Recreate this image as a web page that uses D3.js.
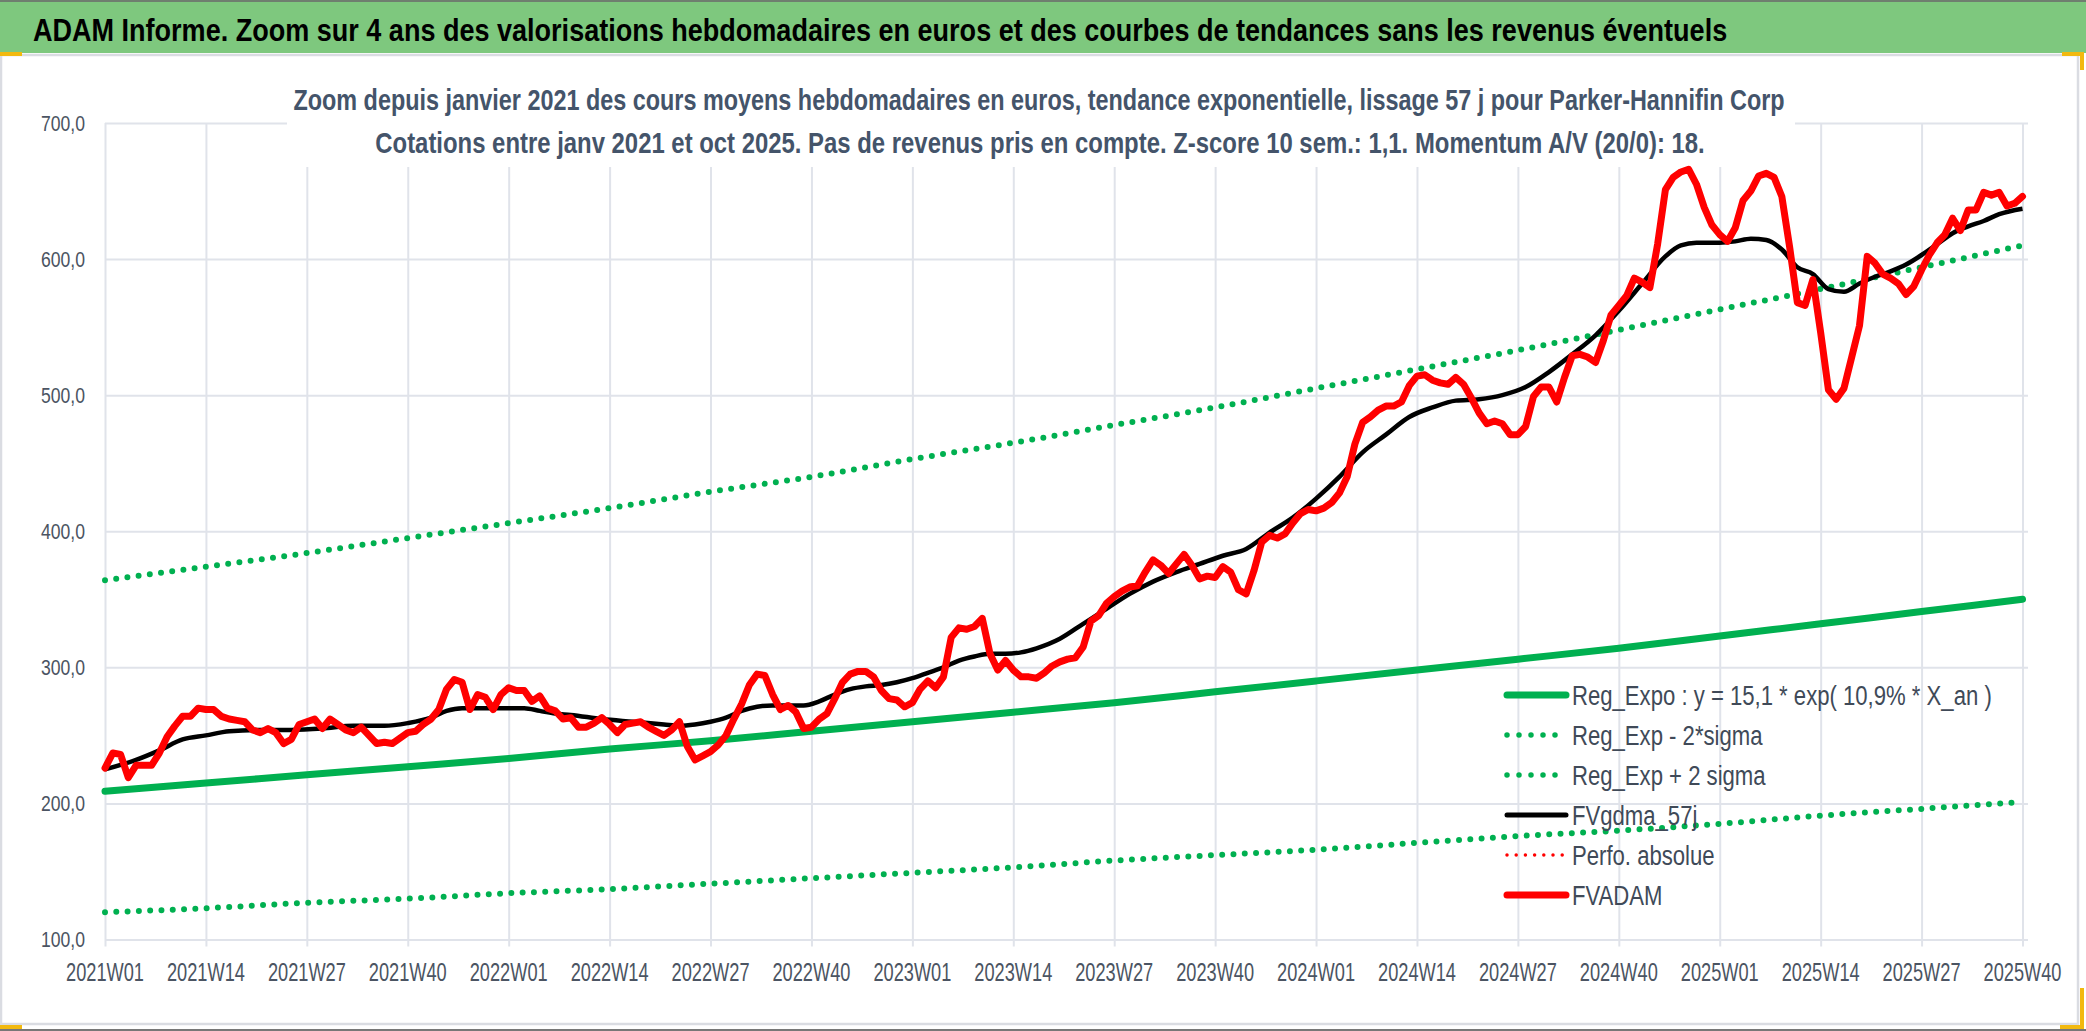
<!DOCTYPE html>
<html lang="fr">
<head>
    <meta charset="UTF-8">
    <title>ADAM Informe - Parker-Hannifin Corp</title>
    <script src="https://d3js.org/d3.v7.min.js"></script>
    <style>
        html, body { margin: 0; padding: 0; background: #fff; overflow: hidden; }
        svg { display: block; }
        text { font-family: "Liberation Sans", Arial, "DejaVu Sans", sans-serif; }
        .grid line { stroke: #e0e3ea; stroke-width: 2px; }
        .grid path { display: none; }
        .tick-label { fill: #4b5462; }
        .legend text { fill: #404a58; font-size: 28px; }
    </style>
</head>
<body>
<script>
    // ---- categories (ISO weeks) ----
    const years = [2021, 2022, 2023, 2024, 2025];
    const weeksInYear = [52, 52, 52, 52, 40];
    const weeks = [];
    years.forEach((y, k) => {
        for (let w = 1; w <= weeksInYear[k]; w++) weeks.push(y + "W" + String(w).padStart(2, "0"));
    });

    const tickLabels = [
        "2021W01", "2021W14", "2021W27", "2021W40",
        "2022W01", "2022W14", "2022W27", "2022W40",
        "2023W01", "2023W14", "2023W27", "2023W40",
        "2024W01", "2024W14", "2024W27", "2024W40",
        "2025W01", "2025W14", "2025W27", "2025W40"
    ];
    const yTicks = [100, 200, 300, 400, 500, 600, 700];

    // ---- FVADAM : weekly average prices in euros ----
    const fvadam = [
        226, 237, 236, 219, 228, 228, 228, 237, 249, 257, 264, 264, 270,
        269, 269, 264, 262, 261, 260, 254, 252, 255, 252, 244, 247, 258,
        260, 262, 255, 262, 258, 254, 252, 256, 250, 244, 245, 244, 248,
        252, 253, 258, 262, 269, 284, 291, 289, 269, 280, 278, 269, 280,
        285, 283, 283, 275, 279, 270, 268, 262, 263, 256, 256, 259, 263,
        258, 252, 258, 259, 260, 256, 253, 250, 254, 260, 242, 232, 235,
        238, 243, 250, 262, 273, 287, 295, 294, 280, 269, 272, 267, 255,
        256, 262, 266, 277, 289, 295, 297, 297, 293, 283, 277, 276, 271,
        274, 284, 290, 285, 293, 322, 329, 328, 330, 336, 310, 298, 305,
        298, 293, 293, 292, 296, 301, 304, 306, 307, 315, 334, 338, 347,
        352, 356, 359, 360, 370, 379, 375, 369, 376, 383, 375, 365, 367,
        366, 374, 370, 357, 354, 371, 392, 397, 395, 398, 406, 413, 416,
        415, 417, 421, 428, 440, 464, 480, 484, 489, 492, 492, 495, 507,
        514, 515, 511, 509, 508, 513, 508, 498, 487, 479, 481, 479, 471,
        471, 477, 499, 506, 506, 495, 513, 529, 530, 528, 524, 540, 559,
        566, 573, 586, 583, 579, 611, 651, 660, 664, 666, 655, 638, 625,
        618, 613, 623, 643, 650, 661, 663, 660, 646, 609, 568, 566, 585,
        546, 504, 497, 505, 528, 551, 602, 597, 589, 586, 582, 574, 580,
        592, 603, 612, 618, 630, 621, 636, 636, 649, 647, 649, 639, 641,
        646
    ];

    // ---- FVgdma_57j : smoothed curve, read at selected weeks ----
    const gdmaWeekIdx = [
        0, 4, 7, 10, 13, 16, 20, 24, 28, 32, 36, 39, 42, 44, 46, 50, 54, 56, 58,
        60, 64, 68, 72, 74, 76, 78, 80, 82, 84, 86, 88, 90, 92, 94, 96, 98, 100,
        102, 104, 106, 108, 110, 112, 114, 116, 118, 120, 123, 126, 129, 132, 135,
        138, 141, 144, 147, 150, 153, 156, 159, 162, 165, 168, 171, 174, 177, 180,
        183, 186, 189, 192, 195, 198, 201, 203, 205, 208, 210, 212, 214, 216, 218,
        220, 222, 224, 226, 228, 230, 232, 234, 236, 238, 240, 242, 244, 247
    ];
    const gdmaValues = [
        225, 232, 239, 247, 250, 253, 254, 254, 255, 257, 257, 259, 263, 268, 270, 270, 270, 268, 266,
        265, 262, 260, 258, 257, 258, 260, 263, 268, 271, 272, 272, 272, 275, 280, 284, 286, 287,
        289, 292, 296, 300, 305, 308, 310, 310, 311, 314, 321, 332, 343, 354, 363,
        370, 376, 382, 387, 399, 410, 424, 440, 458, 471, 484, 491, 496, 497, 500,
        506, 517, 530, 544, 562, 582, 602, 610, 612, 612, 613, 615, 614, 607, 594,
        589, 578, 576, 582, 587, 591, 596, 603, 611, 619, 624, 628, 633, 637
    ];

    // ---- exponential regression and +/- 2 sigma bands, read at each tick ----
    const regExpo  = [209, 215, 221, 227, 233, 240, 246, 253, 260, 267, 274, 282, 290, 298, 306, 314, 323, 332, 341, 350];
    const regMinus = [120, 123, 127, 130, 134, 137, 141, 145, 149, 153, 158, 162, 166, 171, 176, 180, 185, 191, 196, 201];
    const regPlus  = [364, 374, 384, 395, 406, 417, 429, 440, 453, 465, 478, 491, 505, 519, 533, 548, 563, 578, 594, 610];

    const legendLabels = [
        "Reg_Expo : y = 15,1 * exp( 10,9% *  X_an )",
        "Reg_Exp - 2*sigma",
        "Reg_Exp + 2 sigma",
        "FVgdma_57j",
        "Perfo. absolue",
        "FVADAM"
    ];

    const titleText = "ADAM Informe. Zoom sur 4 ans des valorisations hebdomadaires en euros et des courbes de tendances sans les revenus éventuels";
    const subTitle1 = "Zoom depuis janvier 2021 des cours moyens hebdomadaires en euros, tendance exponentielle, lissage 57 j pour Parker-Hannifin Corp";
    const subTitle2 = "Cotations entre janv 2021 et oct 2025. Pas de revenus pris en compte. Z-score 10 sem.: 1,1. Momentum A/V (20/0): 18.";

    // ---- layout ----
    const W = 2086, H = 1031;
    const green = "#00b050";
    const plot = { left: 105, right: 2022.5, top: 123, bottom: 939.5, gridRight: 2028 };

    const svg = d3.select("body").append("svg").attr("width", W).attr("height", H);

    // narrow the texts horizontally (Calibri-like look): the first node sets the ratio
    function squeeze(sel, refWidth) {
        const nodes = sel.nodes();
        const k = refWidth / nodes[0].getComputedTextLength();
        nodes.forEach(n => {
            const s = d3.select(n);
            const x0 = +s.attr("x") || 0, y0 = +s.attr("y") || 0;
            s.attr("x", 0).attr("y", 0).attr("transform", `translate(${x0},${y0}) scale(${k},1)`);
        });
    }

    // page frame + header band
    svg.append("rect").attr("x", 0).attr("y", 0).attr("width", W).attr("height", H).attr("fill", "#fff");
    svg.append("rect").attr("x", 0).attr("y", 2).attr("width", W).attr("height", 51).attr("fill", "#7ec87e");
    svg.append("line").attr("x1", 0).attr("x2", W).attr("y1", 1).attr("y2", 1).attr("stroke", "#6f7f6f").attr("stroke-width", 2);
    svg.append("rect").attr("x", 1).attr("y", 55).attr("width", 2077).attr("height", 969)
        .attr("fill", "#fff").attr("stroke", "#dadce2").attr("stroke-width", 2.5);
    svg.append("line").attr("x1", 0).attr("x2", W).attr("y1", 1030).attr("y2", 1030).attr("stroke", "#777").attr("stroke-width", 2);

    const title = svg.append("text").attr("x", 33).attr("y", 41)
        .attr("font-size", 32).attr("font-weight", "bold").attr("fill", "#000").text(titleText);
    squeeze(title, 1695);

    // scales
    const x = d3.scalePoint().domain(weeks).range([plot.left, plot.right]);
    const y = d3.scaleLinear().domain([100, 700]).range([plot.bottom, plot.top]);

    // horizontal grid
    svg.append("g").attr("class", "grid")
        .attr("transform", `translate(${plot.left},0)`)
        .call(d3.axisLeft(y).tickValues(yTicks).tickSize(-(plot.gridRight - plot.left)).tickFormat(""));

    // vertical grid with tick marks below the axis
    svg.append("g").attr("class", "grid")
        .attr("transform", `translate(0,${plot.bottom + 7})`)
        .call(d3.axisBottom(x).tickValues(tickLabels).tickSize(-(plot.bottom + 7 - plot.top)).tickFormat(""));

    // white box behind the chart subtitle (covers the grid like the original)
    svg.append("rect").attr("x", 287).attr("y", 60).attr("width", 1508).attr("height", 107).attr("fill", "#fff");

    const sub = svg.append("g").attr("fill", "#44546a").attr("font-size", 30).attr("font-weight", "bold").attr("text-anchor", "middle");
    squeeze(sub.append("text").attr("x", 1039).attr("y", 110).text(subTitle1), 1492);
    squeeze(sub.append("text").attr("x", 1040).attr("y", 153).text(subTitle2), 1330);

    // y tick labels
    const fmt = d => d3.format(".1f")(d).replace(".", ",");
    const yLab = svg.append("g").selectAll("text").data(yTicks).join("text")
        .attr("class", "tick-label").attr("font-size", 22)
        .attr("x", 85).attr("y", d => y(d)).attr("dy", "0.36em")
        .attr("text-anchor", "end").text(fmt);
    squeeze(yLab, 44);

    // x tick labels
    const xLab = svg.append("g").selectAll("text").data(tickLabels).join("text")
        .attr("class", "tick-label").attr("font-size", 25)
        .attr("x", d => x(d)).attr("y", 981)
        .attr("text-anchor", "middle").text(d => d);
    squeeze(xLab, 78);

    // series
    const trendLine = d3.line().x((d, i) => x(tickLabels[i])).y(d => y(d)).curve(d3.curveMonotoneX);

    const series = svg.append("g").attr("fill", "none");
    series.append("path").datum(regExpo).attr("d", trendLine)
        .attr("stroke", green).attr("stroke-width", 7).attr("stroke-linecap", "round");
    [regMinus, regPlus].forEach(arr => {
        series.append("path").datum(arr).attr("d", trendLine)
            .attr("stroke", green).attr("stroke-width", 6)
            .attr("stroke-dasharray", "0 11.3").attr("stroke-linecap", "round");
    });

    const gdmaLine = d3.line().x(d => x(weeks[d[0]])).y(d => y(d[1])).curve(d3.curveMonotoneX);
    series.append("path").datum(gdmaWeekIdx.map((w, i) => [w, gdmaValues[i]])).attr("d", gdmaLine)
        .attr("stroke", "#000").attr("stroke-width", 4.5).attr("stroke-linejoin", "round");

    const priceLine = d3.line().x((d, i) => x(weeks[i])).y(d => y(d));
    series.append("path").datum(fvadam).attr("d", priceLine)
        .attr("stroke", "#ff0000").attr("stroke-width", 7).attr("stroke-linejoin", "round").attr("stroke-linecap", "round");

    // legend
    const legendStyles = [
        { stroke: green, width: 7, dash: null },
        { stroke: green, width: 5.5, dash: "0 12" },
        { stroke: green, width: 5.5, dash: "0 12" },
        { stroke: "#000", width: 5, dash: null },
        { stroke: "#ff0000", width: 3.5, dash: "0 9.2" },
        { stroke: "#ff0000", width: 7, dash: null }
    ];
    const legend = svg.append("g").attr("class", "legend");
    const rows = legend.selectAll("g").data(legendLabels).join("g")
        .attr("transform", (d, i) => `translate(1505,${695 + i * 40})`);
    rows.append("line").attr("x1", 2).attr("x2", 61).attr("y1", 0).attr("y2", 0)
        .attr("stroke", (d, i) => legendStyles[i].stroke)
        .attr("stroke-width", (d, i) => legendStyles[i].width)
        .attr("stroke-dasharray", (d, i) => legendStyles[i].dash)
        .attr("stroke-linecap", "round");
    const legText = rows.append("text").attr("x", 67).attr("dy", "0.36em").text(d => d);
    squeeze(legText, 420);

    // selection handles (orange corners of the pasted picture)
    const handle = svg.append("g").attr("fill", "none").attr("stroke", "#f2b90f").attr("stroke-width", 4);
    handle.append("path").attr("d", "M0,54 H22");
    handle.append("path").attr("d", "M2062,54 H2082 V70");
    handle.append("path").attr("d", "M0,1027 H22");
    handle.append("path").attr("d", "M2060,1027 H2082 V988");
</script>
</body>
</html>
